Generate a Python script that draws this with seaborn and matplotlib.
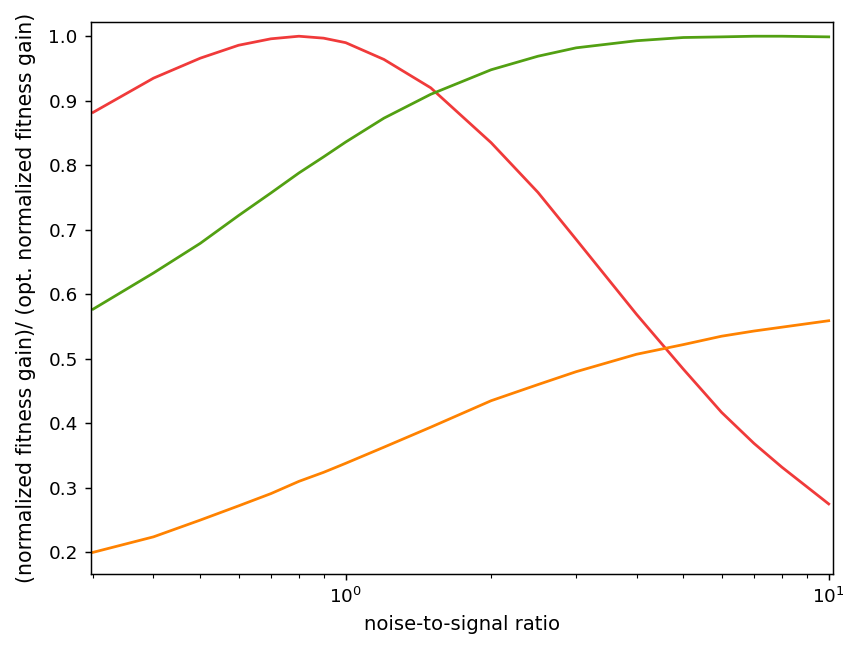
import matplotlib
matplotlib.use("Agg")
import matplotlib.pyplot as plt
import seaborn as sns
import pandas as pd

# noise-to-signal ratio grid
ratio = [0.3, 0.4, 0.5, 0.6, 0.7, 0.8, 0.9, 1.0, 1.2, 1.5, 2.0, 2.5, 3.0, 4.0, 5.0, 6.0, 7.0, 8.0, 10.0]

red_vals = [0.882, 0.935, 0.966, 0.986, 0.996, 1.000, 0.997, 0.990, 0.964, 0.920, 0.835,
            0.758, 0.685, 0.569, 0.484, 0.417, 0.369, 0.332, 0.275]
green_vals = [0.577, 0.633, 0.679, 0.722, 0.757, 0.788, 0.813, 0.836, 0.873, 0.910, 0.948,
              0.969, 0.982, 0.993, 0.998, 0.999, 1.000, 1.000, 0.999]
orange_vals = [0.200, 0.224, 0.250, 0.272, 0.291, 0.310, 0.324, 0.338, 0.363, 0.394, 0.435,
               0.460, 0.480, 0.507, 0.522, 0.535, 0.543, 0.549, 0.559]

series_names = ["red", "green", "orange"]
series_colors = {"red": "#f03a3a", "green": "#52a012", "orange": "#ff8200"}

frames = []
for name, vals in zip(series_names, [red_vals, green_vals, orange_vals]):
    frames.append(pd.DataFrame({"ratio": ratio, "value": vals, "series": name}))
df = pd.concat(frames, ignore_index=True)

dpi = 132
fig = plt.figure(figsize=(846 / dpi, 648 / dpi), dpi=dpi)
ax = fig.add_axes([0.1072, 0.1137, 0.9852 - 0.1072, 0.9665 - 0.1137])

sns.lineplot(data=df, x="ratio", y="value", hue="series", palette=series_colors,
             hue_order=series_names, ax=ax, legend=False, linewidth=1.5, sort=False)

ax.set_xscale("log")
ax.set_xlim(0.2965, 10.23)
ax.set_ylim(0.1659, 1.0225)
ax.set_yticks([0.2, 0.3, 0.4, 0.5, 0.6, 0.7, 0.8, 0.9, 1.0])
ax.set_xlabel("noise-to-signal ratio", fontsize=10.7)
ax.set_ylabel("(normalized fitness gain)/ (opt. normalized fitness gain)", fontsize=11.2, labelpad=7)

fig.savefig("out.png", dpi=dpi)
